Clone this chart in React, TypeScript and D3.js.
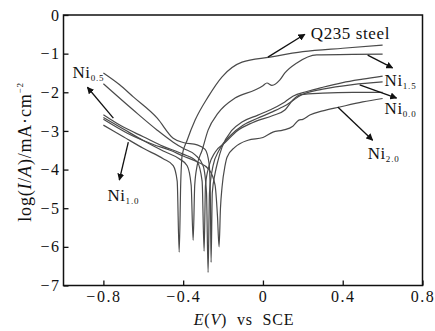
import React, { useEffect, useRef } from "react";
import * as d3 from "d3";

// polarization curves, [E (V vs SCE), log(I/A)]
const q235 = [
  [-0.8, -2.85], [-0.7, -3.15], [-0.6, -3.45], [-0.5, -3.72], [-0.45, -3.9], [-0.43, -4.3],
  [-0.42, -6.14], [-0.412, -4.3], [-0.405, -3.63], [-0.38, -3.24], [-0.34, -2.72], [-0.275, -2.12],
  [-0.205, -1.6], [-0.105, -1.22], [0.035, -1.09], [0.2, -0.95], [0.4, -0.86], [0.6, -0.78]
];
const ni15 = [
  [-0.8, -2.65], [-0.7, -2.95], [-0.6, -3.25], [-0.5, -3.52], [-0.42, -3.72], [-0.38, -3.9],
  [-0.36, -4.4], [-0.35, -5.83], [-0.342, -4.4], [-0.33, -3.9], [-0.305, -3.5], [-0.275, -2.98],
  [-0.225, -2.54], [-0.14, -2.15], [-0.04, -1.94], [0.0, -1.83], [0.02, -1.76], [0.045, -1.82],
  [0.085, -1.68], [0.11, -1.5], [0.17, -1.24], [0.27, -1.03], [0.45, -1.02], [0.6, -1.01]
];
const ni05 = [
  [-0.8, -1.5], [-0.72, -1.8], [-0.65, -2.12], [-0.53, -2.67], [-0.45, -3.19], [-0.4, -3.3],
  [-0.33, -3.36], [-0.29, -3.48], [-0.27, -3.85], [-0.264, -4.6], [-0.26, -6.4], [-0.254, -4.6],
  [-0.24, -4.1], [-0.225, -3.76], [-0.205, -3.42], [-0.155, -2.98], [-0.105, -2.77], [-0.025, -2.59],
  [0.05, -2.42], [0.11, -2.25], [0.15, -2.1], [0.22, -1.98], [0.3, -1.87], [0.4, -1.75],
  [0.5, -1.66], [0.6, -1.58]
];
const ni10 = [
  [-0.8, -1.78], [-0.65, -2.46], [-0.53, -2.98], [-0.45, -3.29], [-0.4, -3.45], [-0.34, -3.62],
  [-0.3, -3.9], [-0.283, -4.6], [-0.275, -6.66], [-0.268, -4.6], [-0.25, -3.9], [-0.22, -3.5],
  [-0.16, -3.1], [-0.1, -2.85], [-0.03, -2.68], [0.05, -2.5], [0.11, -2.35], [0.2, -2.05],
  [0.3, -1.92], [0.45, -1.8], [0.6, -1.73]
];
const ni00 = [
  [-0.8, -2.58], [-0.7, -2.9], [-0.6, -3.15], [-0.5, -3.4], [-0.4, -3.6], [-0.33, -3.8],
  [-0.305, -4.3], [-0.295, -6.11], [-0.288, -4.4], [-0.27, -3.9], [-0.24, -3.55], [-0.19, -3.3],
  [-0.13, -3.0], [-0.05, -2.78], [0.05, -2.6], [0.11, -2.46], [0.15, -2.2], [0.19, -2.06],
  [0.3, -2.02], [0.45, -2.0], [0.6, -2.0]
];
const ni20 = [
  [-0.8, -2.7], [-0.68, -3.06], [-0.55, -3.35], [-0.465, -3.5], [-0.4, -3.65], [-0.33, -3.8],
  [-0.27, -4.0], [-0.24, -4.4], [-0.228, -5.2], [-0.22, -6.0], [-0.213, -5.0], [-0.205, -4.45],
  [-0.19, -3.9], [-0.18, -3.68], [-0.14, -3.42], [-0.075, -3.24], [0.0, -3.17], [0.05, -3.03],
  [0.1, -2.98], [0.15, -2.88], [0.18, -2.72], [0.2, -2.7], [0.235, -2.59], [0.3, -2.48],
  [0.385, -2.38], [0.5, -2.25], [0.6, -2.16]
];

const xTicks = [-0.8, -0.4, 0, 0.4, 0.8];
const yTicks = [0, -1, -2, -3, -4, -5, -6, -7];

// annotation: text, subscript, arrow start/end and text baseline in data units
const labels = [
  { name: "Q235 steel", sub: "", from: [0.025, -1.09], to: [0.21, -0.5], at: [0.24, -0.61] },
  { name: "Ni", sub: "1.5", from: [0.525, -1.04], to: [0.65, -1.37], at: [0.61, -1.84] },
  { name: "Ni", sub: "0.0", from: [0.485, -1.81], to: [0.67, -2.15], at: [0.61, -2.56] },
  { name: "Ni", sub: "2.0", from: [0.375, -2.38], to: [0.55, -3.24], at: [0.525, -3.73] },
  { name: "Ni", sub: "0.5", from: [-0.75, -2.67], to: [-0.88, -1.87], at: [-0.955, -1.63] },
  { name: "Ni", sub: "1.0", from: [-0.675, -3.29], to: [-0.72, -4.27], at: [-0.78, -4.82] }
];

const W = 435;
const H = 331;
const serif = "Liberation Serif, Times New Roman, serif";

export default function App() {
  const ref = useRef<SVGSVGElement>(null);

  useEffect(() => {
    const svg = d3.select(ref.current);
    svg.selectAll("*").remove();

    const x = d3.scaleLinear().domain([-1, 0.8]).range([63.5, 422.5]);
    const y = d3.scaleLinear().domain([-7, 0]).range([285.5, 15]);

    svg
      .append("defs")
      .append("marker")
      .attr("id", "head")
      .attr("viewBox", "0 0 10 10")
      .attr("refX", 9)
      .attr("refY", 5)
      .attr("markerWidth", 7)
      .attr("markerHeight", 7)
      .attr("markerUnits", "userSpaceOnUse")
      .attr("orient", "auto")
      .append("path")
      .attr("d", "M0,0L10,5L0,10z")
      .attr("fill", "#111");

    // curves
    const line = d3
      .line<number[]>()
      .x((d) => x(d[0]))
      .y((d) => y(d[1]))
      .curve(d3.curveMonotoneX);

    [q235, ni15, ni05, ni10, ni00, ni20].forEach((c) => {
      svg
        .append("path")
        .datum(c)
        .attr("d", line)
        .attr("fill", "none")
        .attr("stroke", "#4a4a4a")
        .attr("stroke-width", 1.2);
    });

    // frame
    svg
      .append("rect")
      .attr("x", x(-1))
      .attr("y", y(0))
      .attr("width", x(0.8) - x(-1))
      .attr("height", y(-7) - y(0))
      .attr("fill", "none")
      .attr("stroke", "#111")
      .attr("stroke-width", 1.5);

    // axes, ticks pointing inward
    const xAxis = d3
      .axisBottom(x)
      .tickValues(xTicks)
      .tickSizeInner(-5)
      .tickSizeOuter(0)
      .tickPadding(5)
      .tickFormat((d) => (d === 0 ? "0" : d3.format(".1f")(d as number)));
    const gx = svg.append("g").attr("transform", `translate(0,${y(-7)})`).call(xAxis);

    const yAxis = d3
      .axisLeft(y)
      .tickValues(yTicks)
      .tickSizeInner(-5)
      .tickSizeOuter(0)
      .tickPadding(3)
      .tickFormat(d3.format("d"));
    const gy = svg.append("g").attr("transform", `translate(${x(-1)},0)`).call(yAxis);

    [gx, gy].forEach((g) => {
      g.attr("font-family", null);
      g.select(".domain").remove();
      g.selectAll("line").attr("stroke", "#111").attr("stroke-width", 1.3);
      g.selectAll("text")
        .style("font-family", serif)
        .attr("font-size", 16)
        .attr("letter-spacing", 1.5)
        .attr("fill", "#111");
    });

    // axis titles
    const xt = svg
      .append("text")
      .attr("x", 244)
      .attr("y", 325)
      .attr("text-anchor", "middle")
      .style("font-family", serif)
      .attr("font-size", 16)
      .attr("letter-spacing", 0.8)
      .attr("word-spacing", 5)
      .attr("fill", "#111");
    xt.append("tspan").attr("font-style", "italic").text("E");
    xt.append("tspan").text("(");
    xt.append("tspan").attr("font-style", "italic").text("V");
    xt.append("tspan").text(") vs SCE");

    const yt = svg
      .append("text")
      .attr("transform", "translate(31,152) rotate(-90)")
      .attr("text-anchor", "middle")
      .style("font-family", serif)
      .attr("font-size", 18)
      .attr("letter-spacing", 0.8)
      .attr("fill", "#111");
    yt.append("tspan").text("log(");
    yt.append("tspan").attr("font-style", "italic").text("I");
    yt.append("tspan").text("/");
    yt.append("tspan").attr("font-style", "italic").text("A");
    yt.append("tspan").text(")/mA·cm");
    yt.append("tspan").attr("font-size", 9).attr("dy", -8).text("−2");

    // annotations
    labels.forEach((l) => {
      svg
        .append("line")
        .attr("x1", x(l.from[0]))
        .attr("y1", y(l.from[1]))
        .attr("x2", x(l.to[0]))
        .attr("y2", y(l.to[1]))
        .attr("stroke", "#111")
        .attr("stroke-width", 1.3)
        .attr("marker-end", "url(#head)");
      const t = svg
        .append("text")
        .attr("x", x(l.at[0]))
        .attr("y", y(l.at[1]))
        .style("font-family", serif)
        .attr("font-size", 17)
        .attr("letter-spacing", 0.6)
        .attr("fill", "#111");
      t.append("tspan").text(l.name);
      if (l.sub) {
        t.append("tspan")
          .attr("font-size", 9)
          .attr("dy", 3)
          .attr("letter-spacing", 0.8)
          .text(l.sub);
      }
    });
  }, []);

  return (
    <svg
      ref={ref}
      width={W}
      height={H}
      style={{ position: "absolute", left: 0, top: 0, background: "#fff" }}
    />
  );
}
